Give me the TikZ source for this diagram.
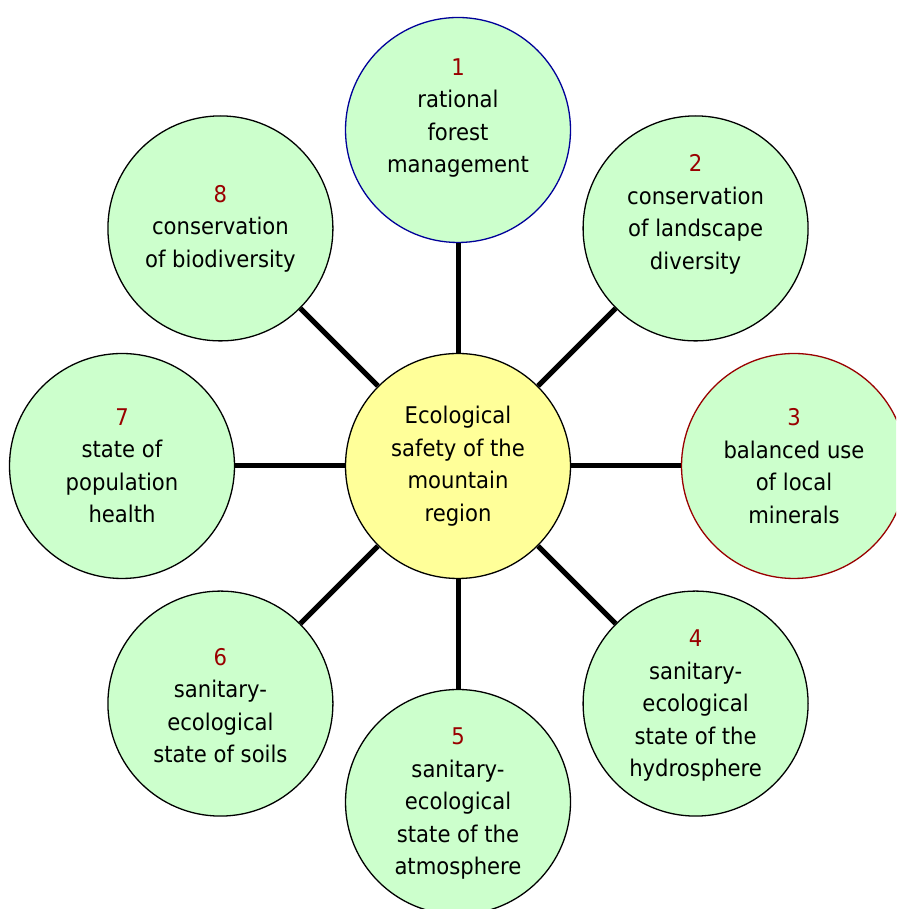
\documentclass[tikz,border=0pt]{standalone}
\usepackage{fontspec}
\setmainfont{DejaVu Sans}[FakeStretch=0.92]
\usetikzlibrary{calc}

\definecolor{discgreen}{HTML}{CCFFCC}
\definecolor{hubyellow}{HTML}{FFFF99}
\definecolor{numred}{HTML}{990000}
\definecolor{rimblue}{HTML}{000099}
\definecolor{rimred}{HTML}{990000}

\begin{document}
\begin{tikzpicture}[x=1pt, y=1pt,
	disc/.style={circle, draw=black, line width=1.3pt, fill=discgreen, minimum size=225pt, inner sep=0pt},
	hub/.style={disc, fill=hubyellow},
	disctext/.style={align=center, font=\fontsize{23}{32.5}\selectfont, text=black},
	spoke/.style={line width=5pt, black}]
	\useasboundingbox (0,0) rectangle (896,909);
	\clip (0,0) rectangle (896,909);
	
	% centre
	\node [hub, disctext] (hub) at (458,443) {Ecological\\safety of the\\mountain\\region};
	
	% outer circles and spokes
	\def\discs{90/rimblue/12/{rational\\forest\\management},
		45/black/14/{conservation\\of landscape\\diversity},
		0/rimred/0/{balanced use\\of local\\minerals},
		-45/black/-2/{sanitary-\\ecological\\state of the\\hydrosphere},
		-90/black/-2/{sanitary-\\ecological\\state of the\\atmosphere},
		-135/black/-2/{sanitary-\\ecological\\state of soils},
		180/black/0/{state of\\population\\health},
		135/black/0/{conservation\\of biodiversity}}
	
	\foreach \ang/\rim/\dy/\txt [count=\i] in \discs {
		\node [disc, draw=\rim, label={[disctext, yshift=\dy]center:{\textcolor{numred}{\i}\\\txt}}] (d\i) at ($(hub)+(\ang:336)$) {};
		\draw [spoke] (hub) -- (d\i);
	}
\end{tikzpicture}
\end{document}
